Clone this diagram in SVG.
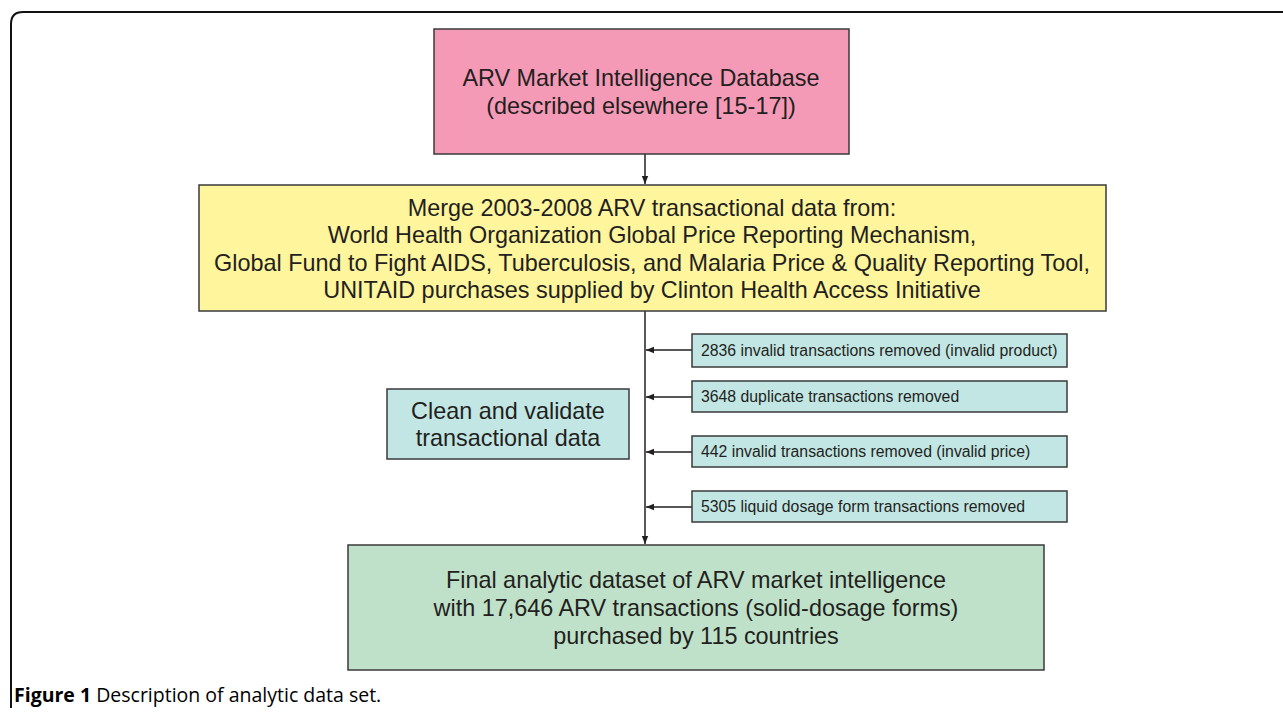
<svg xmlns="http://www.w3.org/2000/svg" width="1283" height="713" viewBox="0 0 1283 713">
<style>
.box{stroke:#3a3a3a;stroke-width:1.5}
.t{font-family:"Liberation Sans",Arial,sans-serif;fill:#231f20;text-anchor:middle}
.big{font-size:23.4px}
.sm{font-size:15.8px;text-anchor:start}
.conn{stroke:#231f20;stroke-width:1.5;fill:none}
.cap{font-family:"Open Sans","Liberation Sans",sans-serif;font-size:19.5px;fill:#000}
</style>
<defs>
<marker id="ah" viewBox="0 0 10 10" refX="10" refY="5" markerWidth="8" markerHeight="8" orient="auto" markerUnits="userSpaceOnUse">
<path d="M0,1 L10,5 L0,9 z" fill="#231f20"/>
</marker>
</defs>
<rect width="1283" height="713" fill="#fff"/>
<path d="M11,708 V24 Q11,12 23,12 H1283" fill="none" stroke="#111" stroke-width="2"/>

<g id="connectors">
<line class="conn" x1="645" y1="154" x2="645" y2="184" marker-end="url(#ah)"/>
<line class="conn" x1="645" y1="311" x2="645" y2="544" marker-end="url(#ah)"/>
<line class="conn" x1="692" y1="350" x2="646" y2="350" marker-end="url(#ah)"/>
<line class="conn" x1="692" y1="397" x2="646" y2="397" marker-end="url(#ah)"/>
<line class="conn" x1="692" y1="452" x2="646" y2="452" marker-end="url(#ah)"/>
<line class="conn" x1="692" y1="507" x2="646" y2="507" marker-end="url(#ah)"/>
</g>

<g id="database">
<rect class="box" x="434" y="29" width="415" height="125" fill="#f49ab7"/>
<text class="t big" x="641" y="86">ARV Market Intelligence Database</text>
<text class="t big" x="641" y="114">(described elsewhere [15-17])</text>
</g>

<g id="merge">
<rect class="box" x="199" y="185" width="907" height="126" fill="#fff59d"/>
<text class="t big" x="652" y="216">Merge 2003-2008 ARV transactional data from:</text>
<text class="t big" x="652" y="243">World Health Organization Global Price Reporting Mechanism,</text>
<text class="t big" x="652" y="271">Global Fund to Fight AIDS, Tuberculosis, and Malaria Price &amp; Quality Reporting Tool,</text>
<text class="t big" x="652" y="298">UNITAID purchases supplied by Clinton Health Access Initiative</text>
</g>

<g id="clean">
<rect class="box" x="387" y="389" width="242" height="70" fill="#c2e6e4"/>
<text class="t big" x="508" y="419">Clean and validate</text>
<text class="t big" x="508" y="446">transactional data</text>
</g>

<g id="r1">
<rect class="box" x="692" y="334" width="375" height="33" fill="#c2e6e4"/>
<text class="t sm" x="701" y="356">2836 invalid transactions removed (invalid product)</text>
</g>
<g id="r2">
<rect class="box" x="692" y="381" width="375" height="31" fill="#c2e6e4"/>
<text class="t sm" x="701" y="402">3648 duplicate transactions removed</text>
</g>
<g id="r3">
<rect class="box" x="692" y="436" width="375" height="31" fill="#c2e6e4"/>
<text class="t sm" x="701" y="457">442 invalid transactions removed (invalid price)</text>
</g>
<g id="r4">
<rect class="box" x="692" y="491" width="375" height="31" fill="#c2e6e4"/>
<text class="t sm" x="701" y="512">5305 liquid dosage form transactions removed</text>
</g>

<g id="final">
<rect class="box" x="348" y="545" width="696" height="125" fill="#bfe1c9"/>
<text class="t big" x="696" y="588">Final analytic dataset of ARV market intelligence</text>
<text class="t big" x="696" y="616">with 17,646 ARV transactions (solid-dosage forms)</text>
<text class="t big" x="696" y="644">purchased by 115 countries</text>
</g>

<text class="cap" x="14" y="702"><tspan font-weight="bold">Figure 1</tspan> Description of analytic data set.</text>
</svg>
